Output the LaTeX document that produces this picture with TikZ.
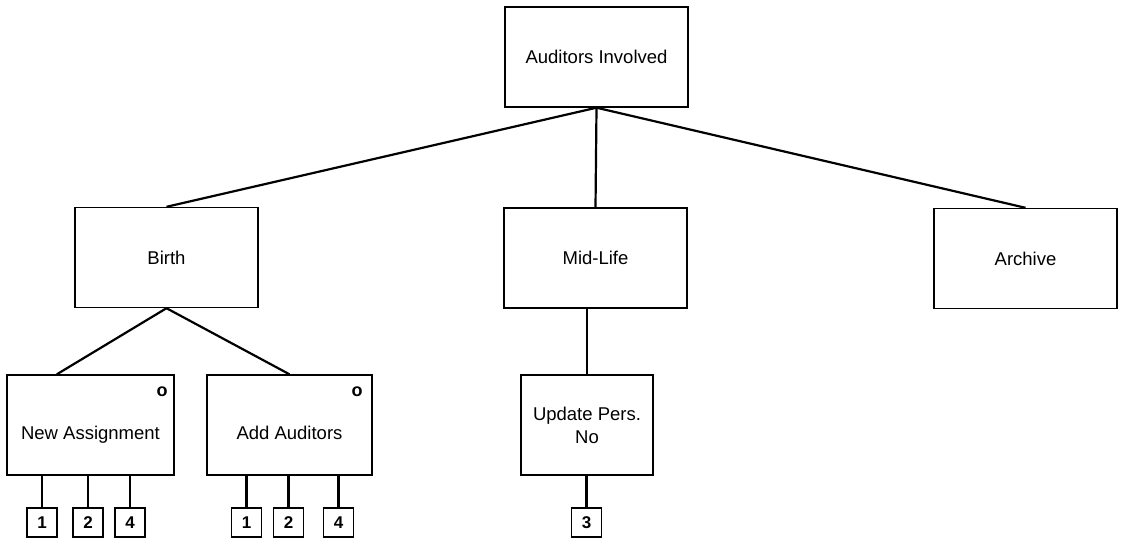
\documentclass[tikz,border=0pt]{standalone}
\usepackage{fontspec}
\setmainfont{Liberation Sans}
\usetikzlibrary{positioning, calc}
\tikzset{
    block/.style={draw, line width=0.7pt, inner sep=0pt, minimum height=50pt,
                  align=center},
    lowtext/.style={text height=16pt, text depth=2pt},
    numbox/.style={draw, line width=0.7pt, inner sep=0pt, minimum width=15pt,
                   minimum height=14.5pt, font=\fontsize{8.5pt}{10pt}\selectfont\bfseries},
    ocircle/.style={inner sep=0pt, font=\fontsize{9pt}{10pt}\selectfont\bfseries},
    link/.style={line width=1.1pt},
}
\newcommand{\leaf}[5]{% nombre, x, y, cifra, padre
    \node[numbox] (#1) at (#2,#3) {#4};
    \draw[link] (#1.north |- #5.south) -- (#1.north);
}

\begin{document}
\begin{tikzpicture}[x=0.5pt, y=-0.5pt, font=\fontsize{9.25pt}{11.5pt}\selectfont]
\useasboundingbox (0,0) rectangle (1123,541);

\node[block, minimum width=91.5pt] (top) at (596.5,57) {Auditors Involved};

\node[block, minimum width=91.5pt] (birth) at (166.5,257.5) {Birth};
\node[block, minimum width=91.5pt] (midlife) at (595.5,258) {Mid-Life};
\node[block, minimum width=91.5pt] (archive) at (1025.5,258.5) {Archive};

\node[block, lowtext, minimum width=83.5pt] (newassign) at (90.5,425) {New Assignment};
\node[block, lowtext, minimum width=82.5pt] (addaud) at (289.5,425) {Add Auditors};
\node[block, minimum width=66pt] (update) at (587,425) {Update Pers.\\No};

\node[ocircle] (newassigno) at (162,392) {o};
\node[ocircle] (addaudo) at (357,392) {o};

\draw[link] (top.south) -- (birth.north);
\draw[link] (top.south) -- (midlife.north);
\draw[link] (top.south) -- (archive.north);

\draw[link] (birth.south) -- ($(newassign.north west)!0.3!(newassign.north east)$);
\draw[link] (birth.south) -- (addaud.north);
\draw[link] (update.north |- midlife.south) -- (update.north);

\leaf{na1}{42}{522.5}{1}{newassign}
\leaf{na2}{88}{522.5}{2}{newassign}
\leaf{na4}{130}{522.5}{4}{newassign}

\leaf{aa1}{246.5}{522.5}{1}{addaud}
\leaf{aa2}{288.5}{522.5}{2}{addaud}
\leaf{aa4}{338.5}{522.5}{4}{addaud}

\leaf{up3}{586.5}{522.5}{3}{update}

\end{tikzpicture}
\end{document}
